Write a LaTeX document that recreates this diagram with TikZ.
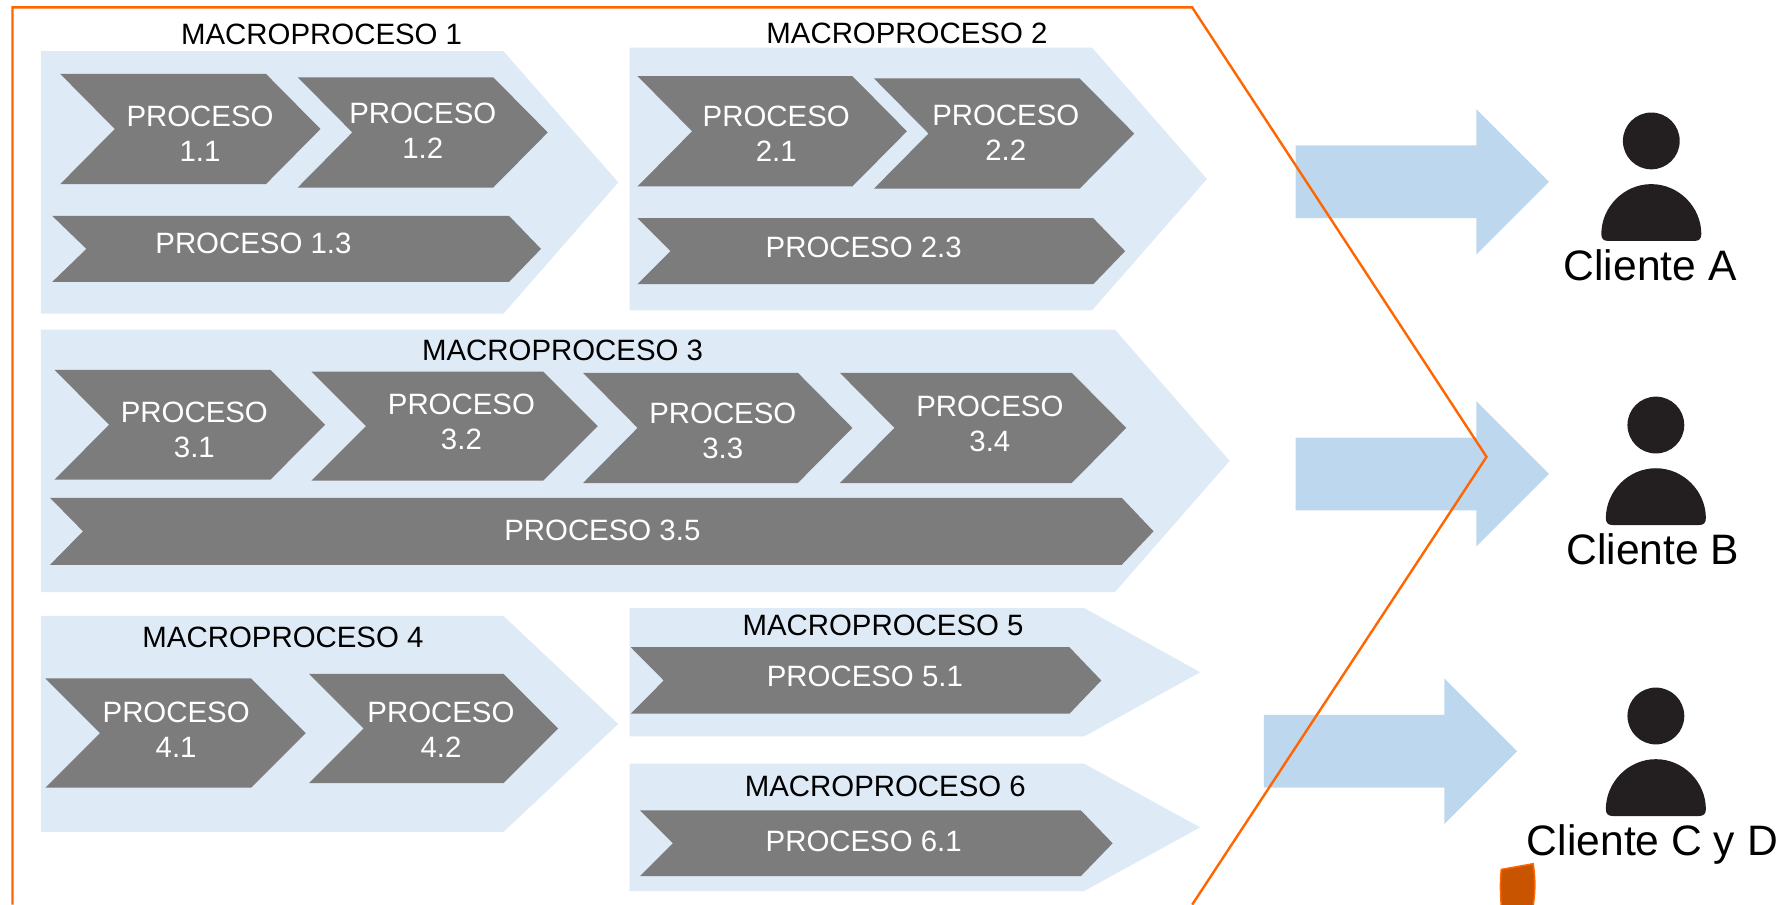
\documentclass[tikz,border=0pt]{standalone}
\usepackage{fontspec}
\setmainfont{Liberation Sans}
\definecolor{macrofill}{HTML}{DEEAF6}
\definecolor{chevfill}{HTML}{7C7C7C}
\definecolor{arrowfill}{HTML}{BDD7EE}
\definecolor{frameorange}{HTML}{FF6600}
\definecolor{personfill}{HTML}{231F20}
\definecolor{tabfill}{HTML}{C85400}
\tikzset{
  macroshape/.style={fill=macrofill,draw=none},
  chevshape/.style={fill=chevfill,draw=none},
  arrowshape/.style={fill=arrowfill,draw=none},
  personshape/.style={fill=personfill,draw=none},
  macrolabel/.style={text=black,font=\fontsize{29.4}{35}\selectfont,inner sep=0pt},
  proclabel/.style={text=white,font=\fontsize{29.4}{35}\selectfont,align=center,inner sep=0pt},
  clientlabel/.style={text=black,font=\fontsize{42.6}{50}\selectfont,inner sep=0pt},
}
% left x, top y, body end x, tip x, bottom y, notch x
\newcommand\chevron[6]{\fill[chevshape] (#1,#2) -- (#3,#2) -- (#4,{(#2+#5)/2}) -- (#3,#5) -- (#1,#5) -- (#6,{(#2+#5)/2}) -- cycle;}
\newcommand\macroblock[5]{\fill[macroshape] (#1,#2) -- (#3,#2) -- (#4,{(#2+#5)/2}) -- (#3,#5) -- (#1,#5) -- cycle;}
\newcommand\blockarrow[2]{\fill[arrowshape] (#1,#2-32) -- (#1+159,#2-32) -- (#1+159,#2-64) -- (#1+223,#2) -- (#1+159,#2+64) -- (#1+159,#2+32) -- (#1,#2+32) -- cycle;}
% centre x of person, head centre y
\newcommand\person[2]{%
  \fill[personshape] (#1,#2) circle [radius=25];
  \fill[personshape] (#1-44,#2+82) .. controls (#1-44,#2+58) and (#1-24,#2+38) .. (#1,#2+38)
     .. controls (#1+24,#2+38) and (#1+44,#2+58) .. (#1+44,#2+82)
     .. controls (#1+44,#2+86) and (#1+42,#2+88) .. (#1+38,#2+88)
     -- (#1-38,#2+88) .. controls (#1-42,#2+88) and (#1-44,#2+86) .. (#1-44,#2+82) -- cycle;}
\begin{document}
\begin{tikzpicture}[x=1.13648pt,y=-1.13648pt]
\useasboundingbox (0,0) rectangle (1568,795.44);
% macro blocks
\macroblock{36}{45}{443}{544}{276}
\macroblock{554}{42}{961}{1062}{273}
\macroblock{36}{290}{981}{1082}{521}
\macroblock{36}{542}{443}{544}{732}
\macroblock{554}{535}{954}{1056}{648}
\macroblock{554}{672}{954}{1056}{784}
% process chevrons
\chevron{53}{65}{234}{282}{162}{101}
\chevron{262}{68}{434}{482}{165}{310}
\chevron{46}{190}{448}{476}{248}{76}
\chevron{561}{67}{750}{798}{164}{609}
\chevron{769}{69}{950}{998}{166}{817}
\chevron{561}{192}{962}{990}{250}{590}
\chevron{48}{325.5}{238}{286}{422}{96}
\chevron{274}{327}{478}{526}{423}{322}
\chevron{513}{328}{702}{750}{425}{561}
\chevron{739}{328}{943}{991}{425}{787}
\chevron{44}{438}{987}{1015}{497}{73}
\chevron{40}{597}{221}{269}{693}{88}
\chevron{272}{593}{443}{491}{689}{320}
\chevron{555}{569.5}{941}{969}{628}{584}
\chevron{563}{713}{951}{979}{771}{592}
% block arrows
\blockarrow{1140}{160}
\blockarrow{1140}{417}
\blockarrow{1112}{661}
% frame
\draw[frameorange,line width=2.4pt] (11,796) -- (11,6.5) -- (1049,6.5) -- (1308,402) -- (1049,796);
% tab at the bottom
\draw[fill=tabfill,draw=frameorange,line width=1.5pt] (1321,765) .. controls (1320,775) and (1320,785) .. (1321,797) -- (1349,797) .. controls (1351,785) and (1351,772) .. (1349,760) -- cycle;
% persons
\person{1453}{124}
\person{1457}{374}
\person{1457}{630}
% macro labels
\node[macrolabel] (m1) at (283,30.5) {MACROPROCESO 1};
\node[macrolabel] (m2) at (798,29) {MACROPROCESO 2};
\node[macrolabel] (m3) at (495,308) {MACROPROCESO 3};
\node[macrolabel] (m4) at (249,561) {MACROPROCESO 4};
\node[macrolabel] (m5) at (777,550) {MACROPROCESO 5};
\node[macrolabel] (m6) at (779,692) {MACROPROCESO 6};
% process labels
\node[proclabel] (p11) at (176,118) {PROCESO\\1.1};
\node[proclabel] (p12) at (372,115) {PROCESO\\1.2};
\node[proclabel] (p13) at (223,214.5) {PROCESO 1.3};
\node[proclabel] (p21) at (683,118) {PROCESO\\2.1};
\node[proclabel] (p22) at (885,117) {PROCESO\\2.2};
\node[proclabel] (p23) at (760,218) {PROCESO 2.3};
\node[proclabel] (p31) at (171,378) {PROCESO\\3.1};
\node[proclabel] (p32) at (406,371) {PROCESO\\3.2};
\node[proclabel] (p33) at (636,379.5) {PROCESO\\3.3};
\node[proclabel] (p34) at (871,373) {PROCESO\\3.4};
\node[proclabel] (p35) at (530,467) {PROCESO 3.5};
\node[proclabel] (p41) at (155,642) {PROCESO\\4.1};
\node[proclabel] (p42) at (388,642) {PROCESO\\4.2};
\node[proclabel] (p51) at (761,595) {PROCESO 5.1};
\node[proclabel] (p61) at (760,740) {PROCESO 6.1};
% client labels
\node[clientlabel] (ca) at (1452,233.5) {Cliente A};
\node[clientlabel] (cb) at (1454.5,483) {Cliente B};
\node[clientlabel] (cc) at (1454,743) {Cliente C y D};
\end{tikzpicture}
\end{document}
